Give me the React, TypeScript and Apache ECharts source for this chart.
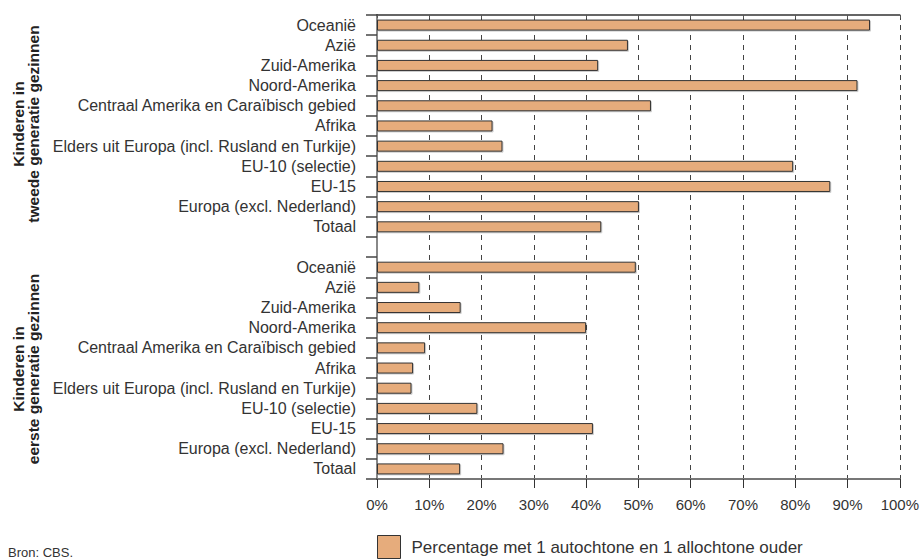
import React, { useEffect, useRef } from "react";
import * as echarts from "echarts";

const regionLabels = [
  "Oceanië",
  "Azië",
  "Zuid-Amerika",
  "Noord-Amerika",
  "Centraal Amerika en Caraïbisch gebied",
  "Afrika",
  "Elders uit Europa (incl. Rusland en Turkije)",
  "EU-10 (selectie)",
  "EU-15",
  "Europa (excl. Nederland)",
  "Totaal",
];

const valuesTweedeGeneratie = [94.3, 48.0, 42.3, 91.9, 52.4, 22.1, 24.0, 79.6, 86.7, 50.1, 42.9];
const valuesEersteGeneratie = [49.5, 8.1, 16.0, 40.0, 9.2, 6.9, 6.6, 19.2, 41.3, 24.2, 15.9];

const groupLabels = ["Kinderen in\ntweede generatie gezinnen", "Kinderen in\neerste generatie gezinnen"];
const seriesName = "Percentage met 1 autochtone en 1 allochtone ouder";
const sourceText = "Bron: CBS.";

const FONT = "'Liberation Sans', Arial, Helvetica, sans-serif";

export default function App() {
  const ref = useRef<HTMLDivElement>(null);

  useEffect(() => {
    document.body.style.margin = "0";
    if (!ref.current) return;
    const chart = echarts.init(ref.current, undefined, { renderer: "svg" });

    const labels = [...regionLabels, "", ...regionLabels];
    const values: (number | null)[] = [...valuesTweedeGeneratie, null, ...valuesEersteGeneratie];
    const keys = labels.map((_, i) => "c" + i);

    chart.setOption({
      animation: false,
      textStyle: { fontFamily: FONT },
      grid: { left: 377, right: 18, top: 15, bottom: 81, containLabel: false },
      xAxis: [
        {
          type: "value",
          position: "bottom",
          min: 0,
          max: 100,
          interval: 10,
          axisLine: { show: true, lineStyle: { color: "#777", width: 2 } },
          axisTick: { show: true, length: 9, lineStyle: { color: "#333", width: 1 } },
          axisLabel: {
            formatter: "{value}%",
            fontSize: 15,
            color: "#333",
            margin: 18,
            fontFamily: FONT,
          },
          splitLine: { show: true, lineStyle: { color: "#444", type: [5, 5], width: 1 } },
        },
        {
          type: "value",
          position: "top",
          min: 0,
          max: 100,
          interval: 10,
          axisLine: { show: true, lineStyle: { color: "#333", width: 1.5 } },
          axisTick: { show: true, inside: true, length: 3, lineStyle: { color: "#555" } },
          axisLabel: { show: false },
          splitLine: { show: false },
        },
      ],
      yAxis: [
        {
          type: "category",
          inverse: true,
          data: keys,
          axisLine: { show: true, lineStyle: { color: "#222", width: 1.5 } },
          axisTick: { show: true, interval: 0, length: 11, lineStyle: { color: "#444", width: 1.5 } },
          axisLabel: {
            interval: 0,
            formatter: (_v: string, i: number) => labels[i],
            fontSize: 16,
            color: "#333",
            margin: 21,
            fontFamily: FONT,
          },
        },
        {
          type: "category",
          inverse: true,
          position: "right",
          data: keys,
          axisLine: { show: true, lineStyle: { color: "#888", width: 2 } },
          axisTick: { show: false },
          axisLabel: { show: false },
        },
      ],
      legend: {
        left: 377,
        top: 535,
        padding: 0,
        itemWidth: 23,
        itemHeight: 23,
        icon: "rect",
        data: [seriesName],
        itemStyle: { color: "#E6AC7C", borderColor: "#333", borderWidth: 1 },
        textStyle: { fontSize: 17, color: "#333", fontFamily: FONT, padding: [18, 0, 0, 6] },
      },
      series: [
        {
          name: seriesName,
          type: "bar",
          xAxisIndex: 0,
          yAxisIndex: 0,
          barWidth: 11,
          data: values,
          itemStyle: {
            color: "#E6AC7C",
            borderColor: "#333",
            borderWidth: 1,
            shadowColor: "rgba(0,0,0,0.2)",
            shadowOffsetX: 1,
            shadowOffsetY: 1,
            shadowBlur: 0,
          },
        },
      ],
      graphic: [
        {
          type: "text",
          x: 26,
          y: 124,
          rotation: Math.PI / 2,
          style: {
            text: groupLabels[0],
            x: 0,
            y: 0,
            align: "center",
            verticalAlign: "middle",
            font: `bold 15.5px ${FONT}`,
            lineHeight: 15,
            fill: "#222",
          },
        },
        {
          type: "text",
          x: 26,
          y: 369,
          rotation: Math.PI / 2,
          style: {
            text: groupLabels[1],
            x: 0,
            y: 0,
            align: "center",
            verticalAlign: "middle",
            font: `bold 15.5px ${FONT}`,
            lineHeight: 15,
            fill: "#222",
          },
        },
        {
          type: "text",
          left: 8,
          top: 546,
          style: {
            text: sourceText,
            font: `13px ${FONT}`,
            fill: "#333",
          },
        },
      ],
    });

    return () => chart.dispose();
  }, []);

  return <div ref={ref} style={{ width: 922, height: 560 }} />;
}
